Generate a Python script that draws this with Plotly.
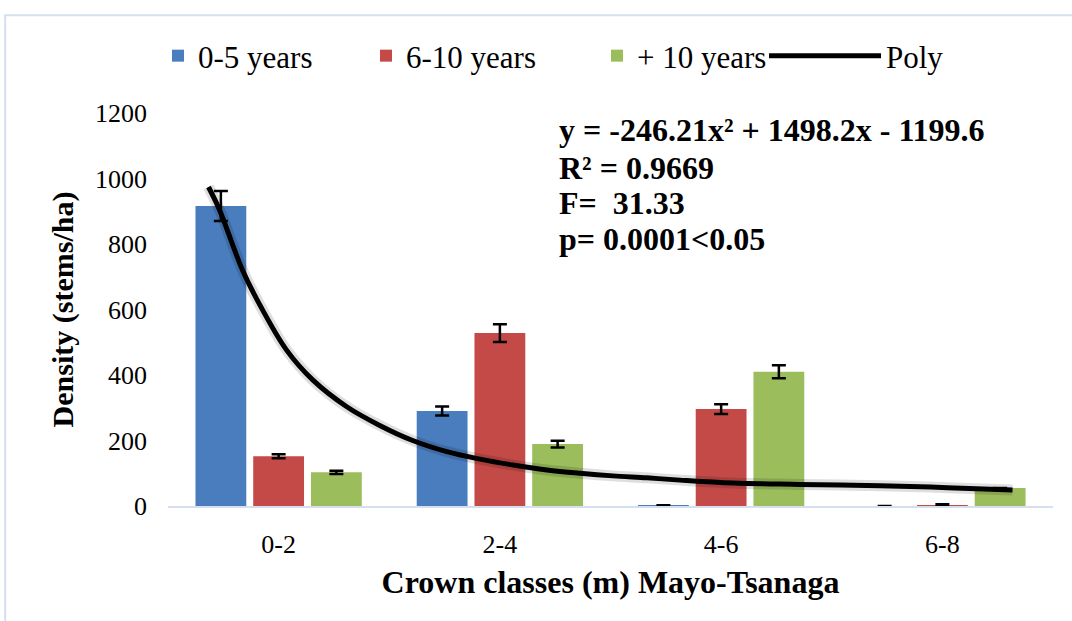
import plotly.graph_objects as go

categories = ["0-2", "2-4", "4-6", "6-8"]
cat_pos = [0, 1, 2, 3]

series_names = ["0-5 years", "6-10 years", "+ 10 years"]
vals_0_5 = [916, 290, 1, 0]
err_0_5 = [46, 14, 1, 0]
vals_6_10 = [152, 528, 296, 3]
err_6_10 = [6, 27, 15, 2]
vals_10p = [103, 189, 410, 55]
err_10p = [5, 10, 20, 0]

poly_x = [-0.317, -0.267, -0.163, -0.072, 0.036, 0.154, 0.308, 0.457, 0.606, 0.760,
          0.910, 1.059, 1.213, 1.362, 1.511, 1.665, 1.814, 2.054, 2.357, 2.719, 3.023, 3.317]
poly_y = [974, 904, 720, 598, 476, 385, 303, 246, 200, 166,
          143, 125, 110, 100, 92, 86, 79, 70, 66, 62, 56, 49]

y_ticks = [0, 200, 400, 600, 800, 1000, 1200]

eq_lines = ["y = -246.21x² + 1498.2x - 1199.6", "R² = 0.9669", "F=\u00a0 31.33", "p= 0.0001&lt;0.05"]

colors = ["#4A7DBE", "#C44A47", "#9CBD5B"]
FONT = "Liberation Serif, Times New Roman, serif"
LEG_FONT = dict(family=FONT, size=31, color="black")

# plot area spans 168..1053 px horizontally
def px_to_paper(px):
    return (px - 168) / 885.0

legend_px = [158, 366, 597, 764]
legend_ids = ["legend", "legend2", "legend3", "legend4"]

fig = go.Figure()
for i, (name, vals, errs, col) in enumerate(zip(series_names, [vals_0_5, vals_6_10, vals_10p],
                                                [err_0_5, err_6_10, err_10p], colors)):
    fig.add_trace(go.Bar(
        x=cat_pos, y=vals, name=name, legend=legend_ids[i],
        marker=dict(color=col, line=dict(width=0)),
        error_y=dict(type="data", array=errs, visible=True, color="black",
                     thickness=2.5, width=7),
    ))

# soft shadow under the fitted curve
fig.add_trace(go.Scatter(x=poly_x, y=poly_y, mode="lines", showlegend=False,
                         hoverinfo="skip",
                         line=dict(color="rgba(0,0,0,0.13)", width=11, shape="spline")))
fig.add_trace(go.Scatter(x=poly_x, y=poly_y, mode="lines", name="Poly", legend="legend4",
                         line=dict(color="black", width=5, shape="spline")))

eq_y = [0.9555, 0.860, 0.7717, 0.6794]
for txt, yy in zip(eq_lines, eq_y):
    fig.add_annotation(x=0.4395, y=yy, xref="paper", yref="paper", text=txt,
                       showarrow=False, xanchor="left", yanchor="middle",
                       font=dict(family=FONT, size=32, color="black", weight="bold"))

# outer chart frame (light)
fig.add_shape(type="rect", xref="paper", yref="paper",
              x0=-0.184, x1=1.2, y0=-0.5, y1=1.249,
              line=dict(color="#D5DFEE", width=2), fillcolor="rgba(0,0,0,0)", layer="below")

legend_common = dict(orientation="h", y=1.145, xanchor="left", yanchor="middle",
                     font=LEG_FONT, bgcolor="rgba(0,0,0,0)")

fig.update_layout(
    width=1072, height=621,
    margin=dict(l=168, r=19, t=113, b=115),
    paper_bgcolor="white", plot_bgcolor="white",
    barmode="group", bargap=0.217, bargroupgap=0.12,
    font=dict(family=FONT, color="black"),
    showlegend=True,
    legend=dict(x=px_to_paper(legend_px[0]), **legend_common),
    legend2=dict(x=px_to_paper(legend_px[1]), **legend_common),
    legend3=dict(x=px_to_paper(legend_px[2]), **legend_common),
    legend4=dict(x=px_to_paper(legend_px[3]), itemwidth=112, **legend_common),
    xaxis=dict(range=[-0.5, 3.5], tickvals=cat_pos, ticktext=categories,
               showgrid=False, zeroline=False, showline=True,
               linecolor="#D5DFEE", linewidth=2, ticks="",
               ticklabelstandoff=14,
               tickfont=dict(family=FONT, size=26, color="black"),
               title=dict(text="Crown classes (m) Mayo-Tsanaga", standoff=12,
                          font=dict(family=FONT, size=32, color="black", weight="bold"))),
    yaxis=dict(range=[0, 1200], tickvals=y_ticks, showgrid=False, zeroline=False,
               showline=False, ticks="", ticklabelstandoff=20,
               tickfont=dict(family=FONT, size=26, color="black"),
               title=dict(text="Density (stems/ha)", standoff=12,
                          font=dict(family=FONT, size=30, color="black", weight="bold"))),
)

fig.write_html("out.html")
